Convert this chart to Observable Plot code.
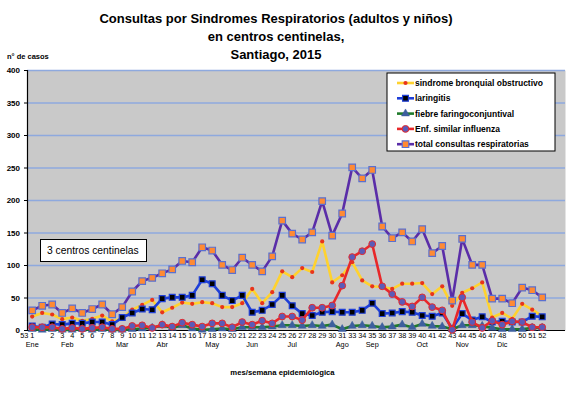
<!DOCTYPE html>
<html><head><meta charset="utf-8">
<script src="https://cdn.jsdelivr.net/npm/d3@7"></script>
<script src="https://cdn.jsdelivr.net/npm/@observablehq/plot@0.6"></script>
<style>
body{margin:0;background:#fff;font-family:"Liberation Sans",Arial,sans-serif;}
#wrap{position:relative;width:576px;height:394px;overflow:hidden;}
#wrap svg.plot{position:absolute;left:0;top:0;}
.abs{position:absolute;white-space:nowrap;}
</style></head>
<body>
<div id="wrap">
  <div class="abs" id="title" style="left:0;top:10px;width:552px;text-align:center;font-weight:bold;font-size:13px;line-height:18px;">Consultas por Sindromes Respiratorios (adultos y niños)<br>en centros centinelas,<br>Santiago, 2015</div>
  <div class="abs" style="left:7px;top:52px;font-weight:bold;font-size:7.5px;">n° de casos</div>
  <div class="abs" style="left:0;top:368px;width:565px;text-align:center;font-weight:bold;font-size:7.7px;">mes/semana epidemiológica</div>
</div>
<script>
// x tick labels (first one sits just left of the first week)
const xLabels = ["53","1","","2","3","4","5","6","7","8","9","10","11","12","13","14","15","16","17","18","19","20","21","22","23","24","25","26","27","28","29","30","31","33","34","35","36","37","38","39","40","41","42","43","44","45","46","47","48","","50","51","52"];
const xTickIdx = [-0.8, ...d3.range(0,52)];
const months = ["Ene","Feb","Mar","Abr","May","Jun","Jul","Ago","Sep","Oct","Nov","Dic"];
const monthWeekIdx = [0,3.5,9,13,18,22,26,31,34,39,43,47];
const yTicks = [0,50,100,150,200,250,300,350,400];

const seriesNames = ["sindrome bronquial obstructivo","laringitis","fiebre faringoconjuntival","Enf. similar influenza","total consultas respiratorias"];
const sbo = [21.5,27,24.6,17.5,20,15,18,23,14,19, 32,39.5,47,28,35,43,41,43.6, 42,36,36,42,64,42,59,91,82,96,90,137,74,85,105,77,68,67, 64,72,72,73,56,68,38,58,65,74,20,27,18,41,32,22];
const laringitis = [7,5,10,9,11,11,13,13,9,20, 27,33,32,49,51,51,54,78, 72,54,46,54,28,31,40,54,38,26,23,28,29,28,28,31,42,26, 27,29,28,23,22,27,3,26,16,21,13,14,13,13,22,21];
const fiebre = [2,1,2,1,1,2,1,2,1,1, 2,3,4,8,4,8,3,1, 2,3,2,5,5,5,6,8,8,7,8,7,9,2,7,8,7,5, 6,9,5,10,7,6,2,8,8,7,4,2,2,2,4,4];
const esi = [5,5,5,2.5,4,2.5,4,5,2.5,2.5, 7,8,4,9,6,12,9,6, 11,11,5,13,9,15,11,21.5,21.5,16,35,35,38.5,69,113,122,133,68, 56,44,37,51,36,31,1,51,13,4,15,9,14,13,5,5];
const total = [31,38,40,27,34,27,33,40,25,36, 60,76,81,88,94,107,105,128, 123,101,93,112,101,91,114,169,149,140,151,199,146,180,251,234,247,160, 142,151,137,156,119,130,46,141,101,101,49,49,42,66,62,51];

const rows = total.map((t,i)=>({i, sbo:sbo[i], lar:laringitis[i], fie:fiebre[i], esi:esi[i], tot:t}));

const styles = [
  {key:"sbo", line:"#FFD22E", sym:"circle", r:2.1, fill:"#E8341C", mstroke:"none", sw:0},
  {key:"lar", line:"#1E3FD8", sym:"square", r:3.3, fill:"#000000", mstroke:"#1E3FD8", sw:1.2},
  {key:"fie", line:"#1F7A2A", sym:"triangle", r:3.0, fill:"#3D5F9E", mstroke:"#3D5F9E", sw:0.5},
  {key:"esi", line:"#E8282A", sym:"circle", r:3.4, fill:"#5B5BB8", mstroke:"#E8282A", sw:1},
  {key:"tot", line:"#5A2DA8", sym:"square", r:3.7, fill:"#FF8A33", mstroke:"#5A70D0", sw:1.2}
];

const seriesMarks = styles.flatMap(s => [
  Plot.line(rows, {x:"i", y:s.key, stroke:s.line, strokeWidth:2.6}),
  Plot.dot(rows, {x:"i", y:s.key, symbol:s.sym, r:s.r, fill:s.fill, stroke:s.mstroke, strokeWidth:s.sw})
]);

const chart = Plot.plot({
  width:576, height:394,
  marginLeft:27, marginRight:11, marginTop:70, marginBottom:64,
  x:{type:"linear", domain:[-0.47,53.33]},
  y:{domain:[0,400]},
  style:{fontFamily:"'Liberation Sans',Arial,sans-serif", background:"transparent", color:"#000"},
  marks:[
    Plot.frame({fill:"#C9C9C9", stroke:null}),
    Plot.ruleY(yTicks.filter(d=>d>0), {stroke:"#8EA9DE", strokeWidth:1.6}),
    Plot.ruleY([0], {stroke:"#000", strokeWidth:1.2}),
    Plot.ruleX([-0.47], {stroke:"#000", strokeWidth:1.2}),
    Plot.axisY({ticks:yTicks, tickSize:3, tickPadding:4.5, fontSize:8, fontWeight:"bold", label:null}),
    Plot.axisX({ticks:xTickIdx, tickFormat:(d,i)=>xLabels[i], tickSize:0, tickPadding:2.5, fontSize:7.3, label:null}),
    Plot.text(months, {x:(d,i)=>monthWeekIdx[i], y:()=>0, text:d=>d, dy:14, fontSize:7.3, lineAnchor:"middle"}),
    ...seriesMarks
  ]
});
chart.classList.add("plot");
document.getElementById("wrap").prepend(chart);

// legend box
const wrap = d3.select("#wrap");
const leg = wrap.append("svg").attr("width",170).attr("height",80)
  .style("position","absolute").style("left","386px").style("top","72px");
leg.append("rect").attr("x",1).attr("y",1).attr("width",168).attr("height",78)
  .attr("fill","#fff").attr("stroke","#000").attr("stroke-width",1);
const sym = {circle:d3.symbolCircle, square:d3.symbolSquare, triangle:d3.symbolTriangle};
styles.forEach((s,k)=>{
  const cy = 11 + k*15.3;
  leg.append("line").attr("x1",11).attr("x2",28).attr("y1",cy).attr("y2",cy)
    .attr("stroke",s.line).attr("stroke-width",2.6);
  leg.append("path").attr("d", d3.symbol(sym[s.sym], Math.PI*s.r*s.r)())
    .attr("transform",`translate(19.5,${cy})`).attr("fill",s.fill)
    .attr("stroke",s.mstroke).attr("stroke-width",s.sw);
  leg.append("text").attr("x",29).attr("y",cy).attr("dy","0.35em")
    .attr("font-size",8.5).attr("font-weight","bold")
    .attr("font-family","'Liberation Sans',Arial,sans-serif").text(seriesNames[k]);
});

// annotation box
wrap.append("div").attr("class","abs")
  .style("left","40px").style("top","239px").style("width","105px").style("height","21px")
  .style("border","1px solid #000").style("background","#fff")
  .style("font-size","10.3px").style("line-height","21px")
  .append("span").style("margin-left","6px").text("3 centros centinelas");
</script>
</body></html>
